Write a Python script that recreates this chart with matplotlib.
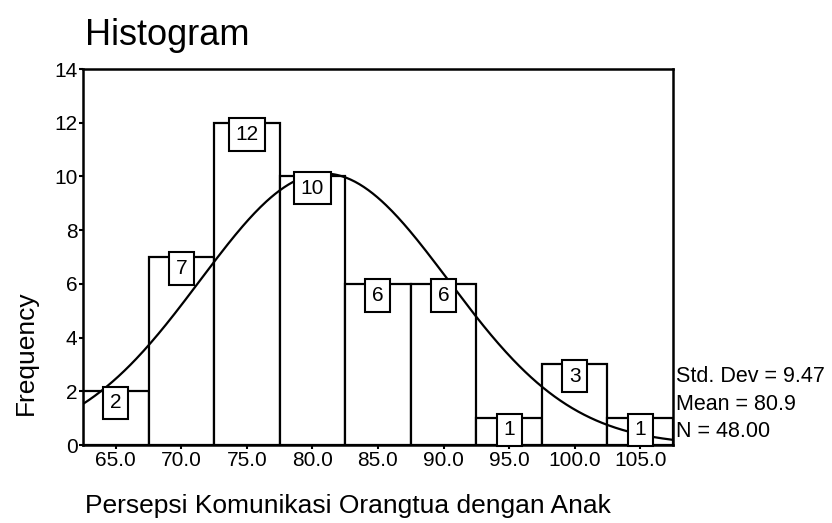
import numpy as np
import matplotlib
matplotlib.use("Agg")
import matplotlib.pyplot as plt

centers = [65, 70, 75, 80, 85, 90, 95, 100, 105]
freqs = [2, 7, 12, 10, 6, 6, 1, 3, 1]
tick_labels = ["65.0", "70.0", "75.0", "80.0", "85.0", "90.0", "95.0", "100.0", "105.0"]
std_dev = 9.47
mean = 80.9
n = 48
bin_width = 5

plt.rcParams['font.family'] = ['Liberation Sans', 'DejaVu Sans']

fig = plt.figure(figsize=(8.32, 5.23), dpi=100)
ax = fig.add_axes([0.0998, 0.149, 0.709, 0.719])

ax.bar(centers, freqs, width=bin_width, color='white', edgecolor='black', linewidth=1.6, zorder=2)

xs = np.linspace(62.5, 107.5, 400)
ys = n * bin_width / (std_dev * np.sqrt(2 * np.pi)) * np.exp(-0.5 * ((xs - mean) / std_dev) ** 2)
ax.plot(xs, ys, color='black', linewidth=1.6, zorder=3)

for c, f in zip(centers, freqs):
    ax.annotate(str(f), xy=(c, f), xytext=(0, -1.5), textcoords='offset points',
                ha='center', va='top', fontsize=15, zorder=5,
                bbox=dict(boxstyle='square,pad=0.32', fc='white', ec='black', lw=1.5))

ax.set_xlim(62.5, 107.5)
ax.set_ylim(0, 14)
ax.set_yticks(range(0, 15, 2))
ax.set_xticks(centers)
ax.set_xticklabels(tick_labels)
ax.tick_params(axis='both', labelsize=15, length=3, width=1.5, direction='out', pad=1)
for s in ax.spines.values():
    s.set_linewidth(1.8)

ax.set_ylabel("Frequency", fontsize=19)
ax.yaxis.set_label_coords(-0.076, 0.247)
fig.text(0.102, 0.914, "Histogram", fontsize=26, ha='left', va='baseline')
fig.text(0.102, 0.019, "Persepsi Komunikasi Orangtua dengan Anak", fontsize=19, ha='left', va='baseline')

fig.text(0.813, 0.2275, "Std. Dev = 9.47\nMean = 80.9\nN = 48.00", fontsize=15.5,
         ha='left', va='center', linespacing=1.4)

fig.savefig("out.png", dpi=100)
